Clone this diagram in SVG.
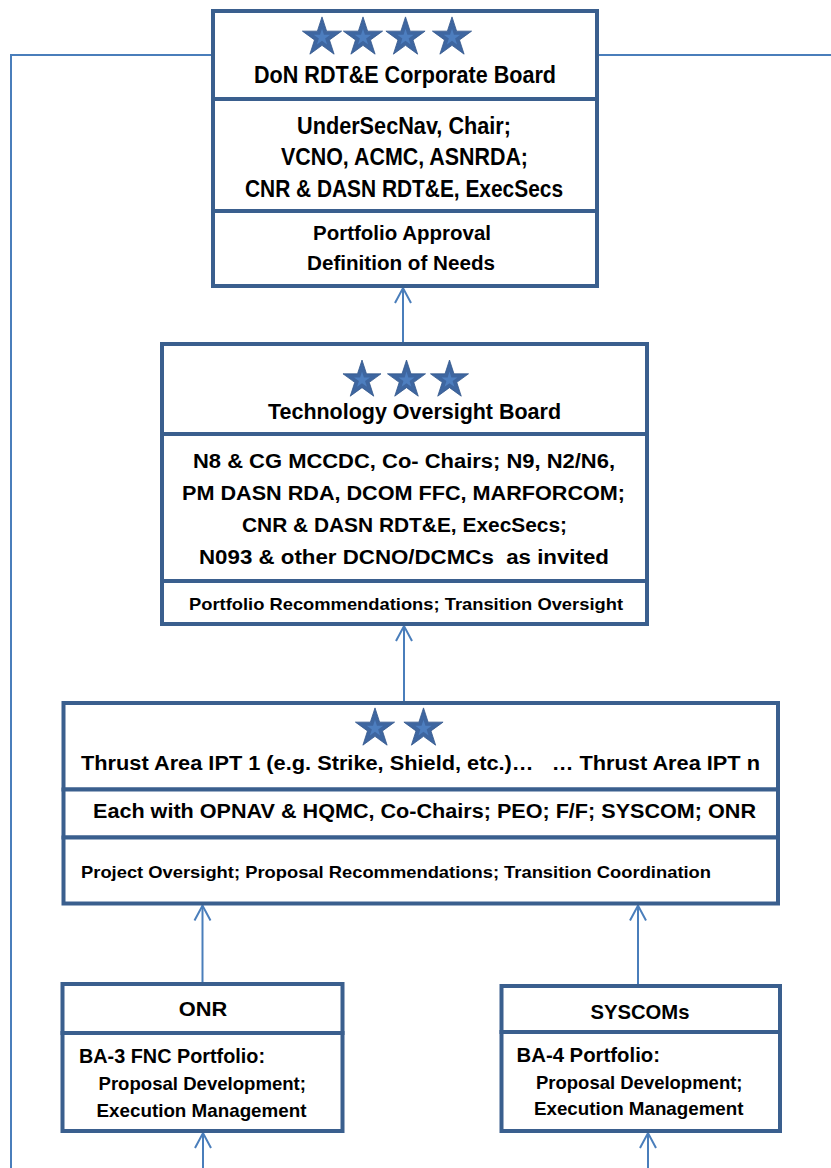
<svg xmlns="http://www.w3.org/2000/svg" xmlns:xlink="http://www.w3.org/1999/xlink" width="831" height="1168" viewBox="0 0 831 1168">
<style>
.box{fill:#ffffff;stroke:#3A5F8E;stroke-width:4}
.conn{fill:none;stroke:#4A7EBB;stroke-width:2}
.t{font-family:"Liberation Sans",Arial,sans-serif;font-weight:bold;fill:#000000}
.c{text-anchor:middle}
.s{fill:#3E66A0;stroke:#34588C;stroke-width:0.8}
.si{fill:#4D7EBF}
</style>
<defs>
<marker id="arr" markerUnits="userSpaceOnUse" markerWidth="20" markerHeight="20" refX="0" refY="0" orient="auto" overflow="visible">
<path d="M-15,-8 L0,0 L-15,8" fill="none" stroke="#4A7EBB" stroke-width="2"/>
</marker>
<g id="star">
<path class="s" d="M0,-20 L4.49,-6.18 L19.02,-6.18 L7.27,2.36 L11.76,16.18 L0,7.64 L-11.76,16.18 L-7.27,2.36 L-19.02,-6.18 L-4.49,-6.18 Z"/>
<path class="si" transform="scale(0.42)" d="M0,-20 L4.49,-6.18 L19.02,-6.18 L7.27,2.36 L11.76,16.18 L0,7.64 L-11.76,16.18 L-7.27,2.36 L-19.02,-6.18 L-4.49,-6.18 Z"/>
</g>
</defs>
<rect width="831" height="1168" fill="#ffffff"/>

<g id="connectors">
<polyline class="conn" points="213,55 11,55 11,1168"/>
<line class="conn" x1="598" y1="55" x2="831" y2="55"/>
<line class="conn" x1="403" y1="344" x2="403" y2="288" marker-end="url(#arr)"/>
<line class="conn" x1="404" y1="703" x2="404" y2="626" marker-end="url(#arr)"/>
<line class="conn" x1="202.5" y1="984" x2="202.5" y2="905.5" marker-end="url(#arr)"/>
<line class="conn" x1="638" y1="986" x2="638" y2="905.5" marker-end="url(#arr)"/>
<line class="conn" x1="203" y1="1168" x2="203" y2="1133" marker-end="url(#arr)"/>
<line class="conn" x1="648" y1="1168" x2="648" y2="1133" marker-end="url(#arr)"/>
</g>

<g id="corporate-board">
<rect class="box" x="213" y="11" width="384" height="88"/>
<rect class="box" x="213" y="99" width="384" height="112"/>
<rect class="box" x="213" y="211" width="384" height="75"/>
<use xlink:href="#star" transform="translate(322,37.5) scale(1.03)"/>
<use xlink:href="#star" transform="translate(363,37.5) scale(1.03)"/>
<use xlink:href="#star" transform="translate(405.5,37.5) scale(1.03)"/>
<use xlink:href="#star" transform="translate(452,37.5) scale(1.03)"/>
<text class="t c" x="405" y="83" font-size="23" textLength="302" lengthAdjust="spacingAndGlyphs">DoN RDT&amp;E Corporate Board</text>
<text class="t c" x="404" y="134" font-size="23" textLength="214" lengthAdjust="spacingAndGlyphs">UnderSecNav, Chair;</text>
<text class="t c" x="404.5" y="165" font-size="23" textLength="247" lengthAdjust="spacingAndGlyphs">VCNO, ACMC, ASNRDA;</text>
<text class="t c" x="404" y="197" font-size="23" textLength="318" lengthAdjust="spacingAndGlyphs">CNR &amp; DASN RDT&amp;E, ExecSecs</text>
<text class="t c" x="402" y="240" font-size="20" textLength="178" lengthAdjust="spacingAndGlyphs">Portfolio Approval</text>
<text class="t c" x="401" y="270" font-size="20" textLength="188" lengthAdjust="spacingAndGlyphs">Definition of Needs</text>
</g>

<g id="technology-oversight-board">
<rect class="box" x="162" y="344" width="485" height="90"/>
<rect class="box" x="162" y="434" width="485" height="147"/>
<rect class="box" x="162" y="581" width="485" height="43"/>
<use xlink:href="#star" transform="translate(362,380) scale(1.0)"/>
<use xlink:href="#star" transform="translate(406.5,380) scale(1.0)"/>
<use xlink:href="#star" transform="translate(449.5,380) scale(1.0)"/>
<text class="t c" x="414.5" y="419" font-size="21.5" textLength="293" lengthAdjust="spacingAndGlyphs">Technology Oversight Board</text>
<text class="t c" x="404" y="467.5" font-size="20" textLength="422" lengthAdjust="spacingAndGlyphs">N8 &amp; CG MCCDC, Co- Chairs; N9, N2/N6,</text>
<text class="t c" x="403.5" y="500" font-size="20" textLength="443" lengthAdjust="spacingAndGlyphs">PM DASN RDA, DCOM FFC, MARFORCOM;</text>
<text class="t c" x="404.5" y="532" font-size="20" textLength="325" lengthAdjust="spacingAndGlyphs">CNR &amp; DASN RDT&amp;E, ExecSecs;</text>
<text class="t c" x="404" y="564" font-size="20" textLength="410" lengthAdjust="spacingAndGlyphs" xml:space="preserve">N093 &amp; other DCNO/DCMCs  as invited</text>
<text class="t c" x="406" y="610" font-size="17" textLength="434" lengthAdjust="spacingAndGlyphs">Portfolio Recommendations; Transition Oversight</text>
</g>

<g id="thrust-area-ipt">
<rect class="box" x="63.5" y="703" width="714.5" height="86.5"/>
<rect class="box" x="63.5" y="789.5" width="714.5" height="48"/>
<rect class="box" x="63.5" y="837.5" width="714.5" height="66"/>
<use xlink:href="#star" transform="translate(375,728.5) scale(1.03)"/>
<use xlink:href="#star" transform="translate(423.5,728.5) scale(1.03)"/>
<text class="t c" x="420.5" y="770" font-size="20" textLength="679" lengthAdjust="spacingAndGlyphs" xml:space="preserve">Thrust Area IPT 1 (e.g. Strike, Shield, etc.)…   … Thrust Area IPT n</text>
<text class="t c" x="424.5" y="818" font-size="20" textLength="663" lengthAdjust="spacingAndGlyphs">Each with OPNAV &amp; HQMC, Co-Chairs; PEO; F/F; SYSCOM; ONR</text>
<text class="t" x="81" y="878" font-size="16.5" textLength="630" lengthAdjust="spacingAndGlyphs">Project Oversight; Proposal Recommendations; Transition Coordination</text>
</g>

<g id="onr">
<rect class="box" x="62.5" y="984" width="280" height="49"/>
<rect class="box" x="62.5" y="1033" width="280" height="98"/>
<text class="t c" x="203" y="1016" font-size="21" textLength="48.5" lengthAdjust="spacingAndGlyphs">ONR</text>
<text class="t" x="79" y="1062.5" font-size="20" textLength="186" lengthAdjust="spacingAndGlyphs">BA-3 FNC Portfolio:</text>
<text class="t" x="98.5" y="1090" font-size="19" textLength="207.5" lengthAdjust="spacingAndGlyphs">Proposal Development;</text>
<text class="t" x="96.5" y="1116.5" font-size="19" textLength="210" lengthAdjust="spacingAndGlyphs">Execution Management</text>
</g>

<g id="syscoms">
<rect class="box" x="501.5" y="986" width="278.5" height="46"/>
<rect class="box" x="501.5" y="1032" width="278.5" height="99"/>
<text class="t c" x="640" y="1019" font-size="21" textLength="99" lengthAdjust="spacingAndGlyphs">SYSCOMs</text>
<text class="t" x="516.5" y="1061.5" font-size="20" textLength="143.5" lengthAdjust="spacingAndGlyphs">BA-4 Portfolio:</text>
<text class="t" x="536" y="1089" font-size="19" textLength="206.5" lengthAdjust="spacingAndGlyphs">Proposal Development;</text>
<text class="t" x="534" y="1115" font-size="19" textLength="209.5" lengthAdjust="spacingAndGlyphs">Execution Management</text>
</g>
</svg>
